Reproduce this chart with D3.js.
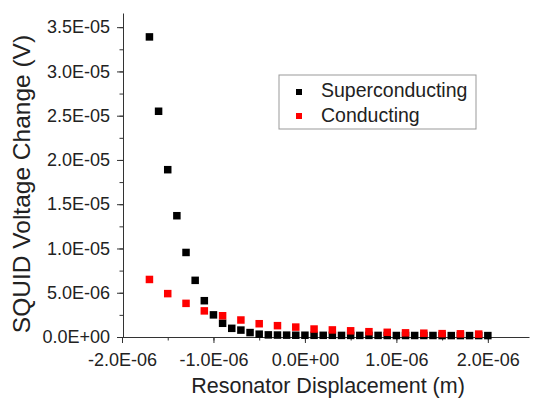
<!DOCTYPE html>
<html lang="en">
<head>
    <meta charset="UTF-8">
    <title>SQUID Voltage Change vs Resonator Displacement</title>
    <script src="https://d3js.org/d3.v7.min.js"></script>
    <style>
        body { margin: 0; background: #fff; }
        svg { display: block; font-family: "Liberation Sans", Arial, sans-serif; }
        .axis path, .axis line { stroke: #333; }
        .axis text { fill: #222; font-size: 18px; }
        .axis-label { fill: #222; }
        .legend-text { fill: #222; font-size: 19.5px; }
    </style>
</head>
<body>
    <svg width="543" height="408"></svg>
    <script>
        // displacement (m) and SQUID voltage change (V)
        const superX = [-1.7e-6, -1.6e-6, -1.5e-6, -1.4e-6, -1.3e-6, -1.2e-6, -1.1e-6, -1.0e-6, -0.9e-6, -0.8e-6,
                        -0.7e-6, -0.6e-6, -0.5e-6, -0.4e-6, -0.3e-6, -0.2e-6, -0.1e-6, 0, 0.1e-6, 0.2e-6,
                        0.3e-6, 0.4e-6, 0.5e-6, 0.6e-6, 0.7e-6, 0.8e-6, 0.9e-6, 1.0e-6, 1.1e-6, 1.2e-6,
                        1.3e-6, 1.4e-6, 1.5e-6, 1.6e-6, 1.7e-6, 1.8e-6, 1.9e-6, 2.0e-6];
        const superY = [3.39e-5, 2.55e-5, 1.89e-5, 1.37e-5, 9.55e-6, 6.4e-6, 4.1e-6, 2.5e-6, 1.55e-6, 9.8e-7,
                        7.8e-7, 5.0e-7, 3.2e-7, 2.4e-7, 2.2e-7, 2.1e-7, 2.0e-7, 2.0e-7, 1.9e-7, 1.9e-7,
                        1.9e-7, 1.8e-7, 1.8e-7, 1.8e-7, 1.8e-7, 1.8e-7, 1.7e-7, 1.7e-7, 1.7e-7, 1.7e-7,
                        1.7e-7, 1.7e-7, 1.6e-7, 1.6e-7, 1.6e-7, 1.6e-7, 1.6e-7, 1.6e-7];
        const condX = [-1.7e-6, -1.5e-6, -1.3e-6, -1.1e-6, -0.9e-6, -0.7e-6, -0.5e-6, -0.3e-6, -0.1e-6, 0.1e-6,
                       0.3e-6, 0.5e-6, 0.7e-6, 0.9e-6, 1.1e-6, 1.3e-6, 1.5e-6, 1.7e-6, 1.9e-6];
        const condY = [6.5e-6, 4.9e-6, 3.8e-6, 2.95e-6, 2.4e-6, 1.92e-6, 1.5e-6, 1.28e-6, 1.12e-6, 9.0e-7,
                       8.0e-7, 7.0e-7, 6.0e-7, 5.3e-7, 4.7e-7, 4.3e-7, 3.8e-7, 3.6e-7, 3.3e-7];
        const xTicks = [-2e-6, -1e-6, 0, 1e-6, 2e-6];
        const yTicks = [0, 5e-6, 1e-5, 1.5e-5, 2e-5, 2.5e-5, 3e-5, 3.5e-5];
        const seriesNames = ["Superconducting", "Conducting"];
        const seriesColors = ["#000000", "#ff0000"];

        const svg = d3.select("svg");
        const x = d3.scaleLinear().domain([-2e-6, 2.45e-6]).range([122, 529]);
        const y = d3.scaleLinear().domain([0, 3.66e-5]).range([337, 13]);

        const fmt = d => {
            if (d === 0) return "0.0E+00";
            const e = Math.floor(Math.log10(Math.abs(d)));
            const m = d / Math.pow(10, e);
            const es = (e < 0 ? "-" : "+") + String(Math.abs(e)).padStart(2, "0");
            return m.toFixed(1) + "E" + es;
        };

        // minor ticks
        svg.append("g")
            .attr("class", "axis")
            .attr("transform", "translate(0,337)")
            .call(d3.axisBottom(x).tickValues(d3.range(-2e-6, 2.3e-6, 0.5e-6)).tickSize(3.5).tickFormat(""))
            .call(g => g.select(".domain").remove());
        svg.append("g")
            .attr("class", "axis")
            .attr("transform", "translate(123,0)")
            .call(d3.axisLeft(y).tickValues(d3.range(0, 3.6e-5, 2.5e-6)).tickSize(3.5).tickFormat(""))
            .call(g => g.select(".domain").remove());

        svg.append("g")
            .attr("class", "axis")
            .attr("transform", "translate(0,337)")
            .call(d3.axisBottom(x).tickValues(xTicks).tickSize(6).tickPadding(10).tickFormat(fmt).tickSizeOuter(0));
        svg.append("g")
            .attr("class", "axis")
            .attr("transform", "translate(123,0)")
            .call(d3.axisLeft(y).tickValues(yTicks).tickSize(6).tickPadding(7).tickFormat(fmt).tickSizeOuter(0));

        const sq = 7.5;
        const drawSeries = (xs, ys, color) => {
            svg.append("g")
                .selectAll("rect")
                .data(xs.map((v, i) => [v, ys[i]]))
                .enter()
                .append("rect")
                .attr("x", d => x(d[0]) - sq / 2)
                .attr("y", d => y(d[1]) - sq / 2)
                .attr("width", sq)
                .attr("height", sq)
                .attr("fill", color);
        };
        drawSeries(superX, superY, seriesColors[0]);
        drawSeries(condX, condY, seriesColors[1]);

        // axis titles
        svg.append("text")
            .attr("class", "axis-label")
            .attr("x", 328)
            .attr("y", 393)
            .attr("text-anchor", "middle")
            .style("font-size", "21.5px")
            .text("Resonator Displacement (m)");
        svg.append("text")
            .attr("class", "axis-label")
            .attr("transform", "translate(30,184) rotate(-90)")
            .attr("text-anchor", "middle")
            .style("font-size", "24.5px")
            .text("SQUID Voltage Change (V)");

        // legend
        const legend = svg.append("g").attr("transform", "translate(279,75)");
        legend.append("rect")
            .attr("width", 197)
            .attr("height", 54)
            .attr("fill", "#fff")
            .attr("stroke", "#999")
            .attr("stroke-width", 1);
        seriesNames.forEach((name, i) => {
            legend.append("rect")
                .attr("x", 17)
                .attr("y", 14 + i * 24)
                .attr("width", 6)
                .attr("height", 6)
                .attr("fill", seriesColors[i]);
            legend.append("text")
                .attr("class", "legend-text")
                .attr("x", 42)
                .attr("y", 22 + i * 25)
                .text(name);
        });
    </script>
</body>
</html>
